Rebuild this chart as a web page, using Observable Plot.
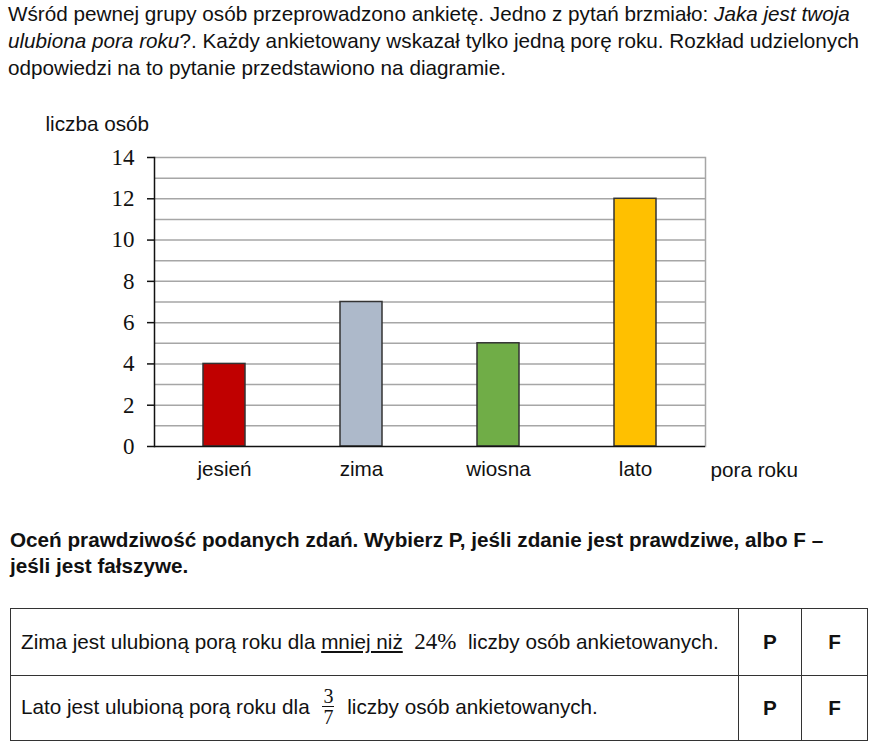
<!DOCTYPE html>
<html>
<head>
<meta charset="utf-8">
<script src="https://cdn.jsdelivr.net/npm/d3@7"></script>
<script src="https://cdn.jsdelivr.net/npm/@observablehq/plot@0.6"></script>
<style>
  html, body { margin: 0; padding: 0; background: #fff; }
  body { width: 885px; height: 747px; position: relative; overflow: hidden; font-family: "Liberation Sans", Arial, sans-serif; color: #111; }
  #intro { position: absolute; left: 8px; top: 0px; font-size: 20.7px; line-height: 27px; white-space: nowrap; }
  #task { position: absolute; left: 10px; top: 527px; font-size: 20.7px; line-height: 26px; font-weight: bold; white-space: nowrap; }
  #chart { position: absolute; left: 0; top: 110px; }
  table { position: absolute; left: 10px; top: 608px; border-collapse: collapse; font-size: 20.7px; table-layout: fixed; width: 857px; }
  td { border: 1.5px solid #333; padding: 0 0 0 10px; vertical-align: middle; white-space: nowrap; box-sizing: border-box; }
  td.pf { text-align: center; font-weight: bold; padding: 0; }
  .num { font-family: "Liberation Serif", serif; font-size: 23px; }
  .frac { display: inline-block; vertical-align: middle; text-align: center; font-family: "Liberation Serif", serif; font-size: 20px; line-height: 20px; margin: 0 7px; position: relative; top: -2px; }
  .frac span { display: block; padding: 0 1px; }
  .frac .top { border-bottom: 1.3px solid #111; }
</style>
</head>
<body>
<div id="intro">Wśród pewnej grupy osób przeprowadzono ankietę. Jedno z pytań brzmiało: <i>Jaka jest twoja</i><br><i>ulubiona pora roku</i>?. Każdy ankietowany wskazał tylko jedną porę roku. Rozkład udzielonych<br>odpowiedzi na to pytanie przedstawiono na diagramie.</div>
<div id="chart"></div>
<div id="task">Oceń prawdziwość podanych zdań. Wybierz P, jeśli zdanie jest prawdziwe, albo F –<br>jeśli jest fałszywe.</div>
<table>
  <colgroup><col style="width:728px"><col style="width:63px"><col style="width:66px"></colgroup>
  <tr style="height:67px">
    <td>Zima jest ulubioną porą roku dla <u>mniej niż</u>&nbsp; <span class="num">24%</span>&nbsp; liczby osób ankietowanych.</td>
    <td class="pf">P</td>
    <td class="pf">F</td>
  </tr>
  <tr style="height:65px">
    <td>Lato jest ulubioną porą roku dla <span class="frac"><span class="top">3</span><span>7</span></span> liczby osób ankietowanych.</td>
    <td class="pf">P</td>
    <td class="pf">F</td>
  </tr>
</table>
<script>
const seasons = ["jesień", "zima", "wiosna", "lato"];
const counts = [4, 7, 5, 12];
const seasonColors = ["#C00000", "#ADB9CA", "#70AD47", "#FFC000"];
const yTicks = [0, 2, 4, 6, 8, 10, 12, 14];
const gridLines = [1, 2, 3, 4, 5, 6, 7, 8, 9, 10, 11, 12, 13, 14];
const yTitle = "liczba osób";
const xTitle = "pora roku";

const data = seasons.map((s, i) => ({season: s, count: counts[i]}));

const chart = Plot.plot({
  width: 885,
  height: 380,
  marginTop: 47,
  marginBottom: 44,
  marginLeft: 154,
  marginRight: 180,
  style: {fontFamily: "Liberation Sans, Arial, sans-serif", fontSize: "20.7px", color: "#111", background: "transparent", overflow: "visible"},
  x: {domain: seasons, paddingInner: 0.69, paddingOuter: 0.345, axis: null},
  y: {domain: [0, 14], axis: null},
  color: {domain: seasons, range: seasonColors},
  marks: [
    Plot.gridY(gridLines, {stroke: "#a6a6a6", strokeOpacity: 1, strokeWidth: 1.5}),
    Plot.frame({anchor: "right", stroke: "#a6a6a6", strokeWidth: 1.5}),
    Plot.barY(data, {x: "season", y: "count", fill: "season", stroke: "#333", strokeWidth: 1.5}),
    Plot.ruleY([0], {stroke: "#111", strokeWidth: 1.5}),
    Plot.frame({anchor: "left", stroke: "#111", strokeWidth: 1.5}),
    Plot.axisY({ticks: yTicks, tickSize: 7, tickPadding: 13, label: null, fontFamily: "Liberation Serif, serif", fontSize: 23, strokeWidth: 1.5}),
    Plot.axisX({tickSize: 0, tickPadding: 15, label: null, fontSize: 20.7}),
    Plot.text([xTitle], {frameAnchor: "bottom-right", lineAnchor: "middle", dx: 5, dy: 24, textAnchor: "start", fontSize: 20.7}),
    Plot.text([yTitle], {frameAnchor: "top-left", lineAnchor: "middle", dx: -109, dy: -33, textAnchor: "start", fontSize: 20.7})
  ]
});
document.getElementById("chart").appendChild(chart);
</script>
</body>
</html>
